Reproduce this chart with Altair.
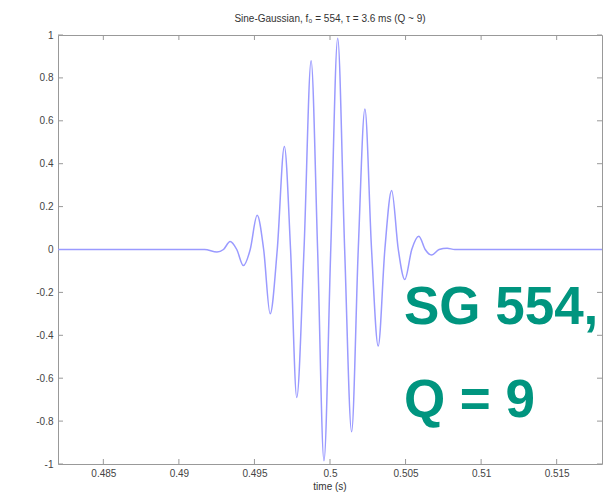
import altair as alt
import pandas as pd

# Waveform: extrema and zero crossings (time in s)
time_s = [0.4820, 0.4917, 0.49252, 0.49295, 0.49339, 0.49383, 0.49427, 0.49472,
          0.49518, 0.49561, 0.49604, 0.49651, 0.49698, 0.49739, 0.49780, 0.49828,
          0.49875, 0.49918, 0.49960, 0.50005, 0.50051, 0.50097, 0.50143, 0.50187,
          0.50231, 0.50275, 0.50319, 0.50363, 0.50408, 0.50452, 0.50495, 0.50541,
          0.50588, 0.50630, 0.50672, 0.50722, 0.50775, 0.50826, 0.5180]
amplitude = [0.0, 0.0, -0.012, 0.0, 0.037, 0.0, -0.075, 0.0,
             0.16, 0.0, -0.30, 0.0, 0.48, 0.0, -0.69, 0.0,
             0.88, 0.0, -0.985, 0.0, 0.985, 0.0, -0.85, 0.0,
             0.655, 0.0, -0.45, 0.0, 0.275, 0.0, -0.14, 0.0,
             0.062, 0.0, -0.026, 0.0, 0.006, 0.0, 0.0]

x_ticks = [0.485, 0.49, 0.495, 0.5, 0.505, 0.51, 0.515]
y_ticks = [-1, -0.8, -0.6, -0.4, -0.2, 0, 0.2, 0.4, 0.6, 0.8, 1]

note_text = ["SG 554,", "Q = 9"]
note_time = [0.50489, 0.50489]
note_amp = [-0.345, -0.783]

title_text = "Sine-Gaussian, f\u2080 = 554, \u03c4 = 3.6 ms (Q ~ 9)"
x_title = "time (s)"

W, H = 544, 429

df = pd.DataFrame({"t": time_s, "a": amplitude})
xt = pd.DataFrame({"v": x_ticks})
yt = pd.DataFrame({"v": y_ticks})
notes = pd.DataFrame({"text": note_text, "t": note_time, "a": note_amp})
labels = pd.DataFrame({"text": [title_text, x_title]})

xscale = alt.Scale(domain=[0.482, 0.518], nice=False, zero=False)
yscale = alt.Scale(domain=[-1, 1], nice=False)

line = alt.Chart(df).mark_line(
    color="#9a9aff", strokeWidth=1.5, interpolate="monotone"
).encode(
    x=alt.X("t:Q", scale=xscale, title=None,
            axis=alt.Axis(values=x_ticks, labelExpr="'' + datum.value",
                          tickSize=0, labelPadding=4,
                          grid=False, domain=False)),
    y=alt.Y("a:Q", scale=yscale, title=None,
            axis=alt.Axis(values=y_ticks, labelExpr="'' + datum.value",
                          tickSize=0, labelPadding=5, grid=False, domain=False)),
)

tick_style = dict(color="#999999", strokeWidth=1)
bottom_ticks = alt.Chart(xt).mark_rule(**tick_style).encode(
    x=alt.X("v:Q", scale=xscale), y=alt.value(H), y2=alt.value(H - 5))
top_ticks = alt.Chart(xt).mark_rule(**tick_style).encode(
    x=alt.X("v:Q", scale=xscale), y=alt.value(0), y2=alt.value(5))
left_ticks = alt.Chart(yt).mark_rule(**tick_style).encode(
    y=alt.Y("v:Q", scale=yscale), x=alt.value(0), x2=alt.value(5))
right_ticks = alt.Chart(yt).mark_rule(**tick_style).encode(
    y=alt.Y("v:Q", scale=yscale), x=alt.value(W), x2=alt.value(W - 5))

note_layer = alt.Chart(notes).mark_text(
    align="left", baseline="alphabetic", font="Liberation Sans",
    fontWeight="bold", fontSize=53, color="#00957f"
).encode(
    x=alt.X("t:Q", scale=xscale), y=alt.Y("a:Q", scale=yscale), text="text:N")

title_layer = alt.Chart(labels.iloc[[0]]).mark_text(
    align="center", baseline="middle", font="Liberation Sans",
    fontSize=10, color="#333333"
).encode(x=alt.value(W / 2), y=alt.value(-16), text="text:N")

xtitle_layer = alt.Chart(labels.iloc[[1]]).mark_text(
    align="center", baseline="middle", font="Liberation Sans",
    fontSize=10, color="#333333"
).encode(x=alt.value(W / 2), y=alt.value(H + 23), text="text:N")

chart = alt.layer(
    bottom_ticks, top_ticks, left_ticks, right_ticks, line, note_layer,
    title_layer, xtitle_layer
).properties(
    width=W, height=H,
    autosize="none",
    padding={"left": 50, "top": 27, "right": 4, "bottom": 28},
).configure_view(
    stroke="#999999", strokeWidth=1
).configure_axis(
    labelFont="Liberation Sans", labelFontSize=10, labelColor="#444444",
)

chart.save("out.html", embed_options={"renderer": "svg", "actions": False})
